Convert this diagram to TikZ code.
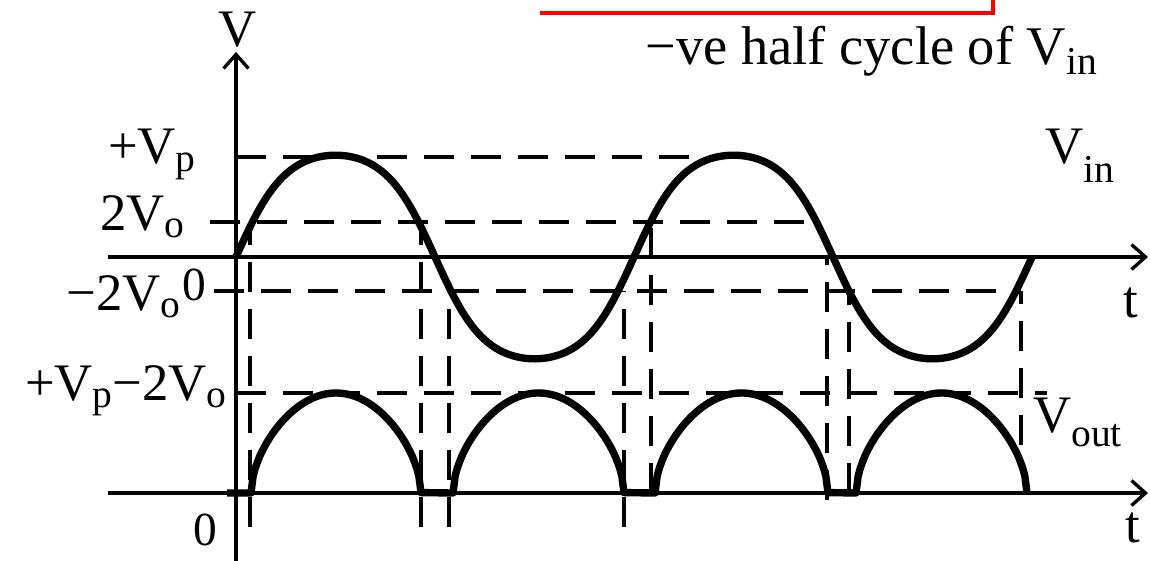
\documentclass[tikz,border=0pt]{standalone}
\usepackage{fontspec}
\setmainfont{Liberation Serif}
\usetikzlibrary{arrows.meta}
\newcommand{\lowsub}[2]{\raisebox{-#1}{\fontsize{22.5}{24}\selectfont #2}}

\begin{document}
\begin{tikzpicture}[x=0.02cm, y=-0.02cm,
    declare function={hump(\t)=127.2*tanh(1.1*sin(180*\t));
                      arch(\t)=100*pow(abs(sin(180*\t))+0.000001,0.55);},
    axis/.style={line width=1.9pt},
    arrow/.style={axis, -{Straight Barb[length=0.28cm, width=0.5cm]}},
    guide/.style={line width=2.1pt, dash pattern=on 0.6cm off 0.34cm},
    wave/.style={line width=4.2pt, line join=round},
    lbl/.style={inner sep=0pt, font=\fontsize{30}{32}\selectfont},
    zero/.style={inner sep=0pt, font=\fontsize{27}{29}\selectfont}]
    \useasboundingbox (0,0) rectangle (1150,561);

    % frame of the note above
    \draw[red, line width=2.3pt] (540,13) -- (993,13) -- (993,-10);
    \node[lbl, anchor=base west] (note) at (645,64)
        {\fontsize{31}{33}\selectfont −ve half cycle of V\lowsub{6pt}{in}};

    % axes
    \coordinate (yfoot) at (236,561);
    \coordinate (ytip) at (236,52);
    \coordinate (ain) at (108,257);
    \coordinate (tin) at (1148,257);
    \coordinate (aout) at (108,493);
    \coordinate (tout) at (1148,493);
    \draw[arrow] (yfoot) -- (ytip);
    \draw[arrow] (ain) -- (tin);
    \draw[arrow] (aout) -- (tout);

    % level guides
    \draw[guide] (236,157) -- (705,157);
    \draw[guide] (210,222) -- (818,222);
    \draw[guide] (214,291) -- (1021,291);
    \draw[guide] (236,393) -- (1047,393);

    % switching guides, drawn upwards
    \draw[guide] (250,527) -- (250,222);
    \draw[guide] (421,527) -- (421,222);
    \draw[guide] (449,527) -- (449,291);
    \draw[guide] (624,527) -- (624,291);
    \draw[guide] (651,493) -- (651,222);
    \draw[guide] (827,500) -- (827,257);
    \draw[guide] (849,493) -- (849,291);
    \draw[guide] (1021,445) -- (1021,291);

    % input wave
    \draw[wave] plot[domain=236:1032, samples=240] (\x,{257-hump((\x-236)/199)});

    % output wave
    \draw[wave] (227,493) -- (251,493)
        -- plot[domain=251:421, samples=80] (\x,{493-arch((\x-251)/170)})
        -- (453,493)
        -- plot[domain=453:624, samples=80] (\x,{493-arch((\x-453)/171)})
        -- (655,493)
        -- plot[domain=655:828, samples=80] (\x,{493-arch((\x-655)/173)})
        -- (856,493)
        -- plot[domain=856:1027, samples=80] (\x,{493-arch((\x-856)/171)});

    % labels
    \node[lbl, anchor=base] (vax) at (238,47) {V};
    \node[lbl, anchor=base east] (vp) at (196,163) {+V\lowsub{5pt}{p}};
    \node[lbl, anchor=base west] (two) at (100,230) {2V\lowsub{4pt}{o}};
    \node[lbl, anchor=base east] (mtwo) at (181,310) {−2V\lowsub{4pt}{o}};
    \node[zero, anchor=base west] (zin) at (182,300) {0};
    \node[lbl, anchor=base east] (vpo) at (227,400) {+V\lowsub{4.5pt}{p}−2V\lowsub{4.5pt}{o}};
    \node[zero, anchor=base west] (zout) at (193,545) {0};
    \node[lbl, anchor=base west] (tt) at (1123,317) {t};
    \node[lbl, anchor=base west] (tb) at (1125,542) {t};
    \node[lbl, anchor=base west] (vin) at (1045,163) {V\lowsub{11pt}{in}};
    \node[lbl, anchor=base west] (vout) at (1033,432) {V\lowsub{8.5pt}{out}};
\end{tikzpicture}
\end{document}
